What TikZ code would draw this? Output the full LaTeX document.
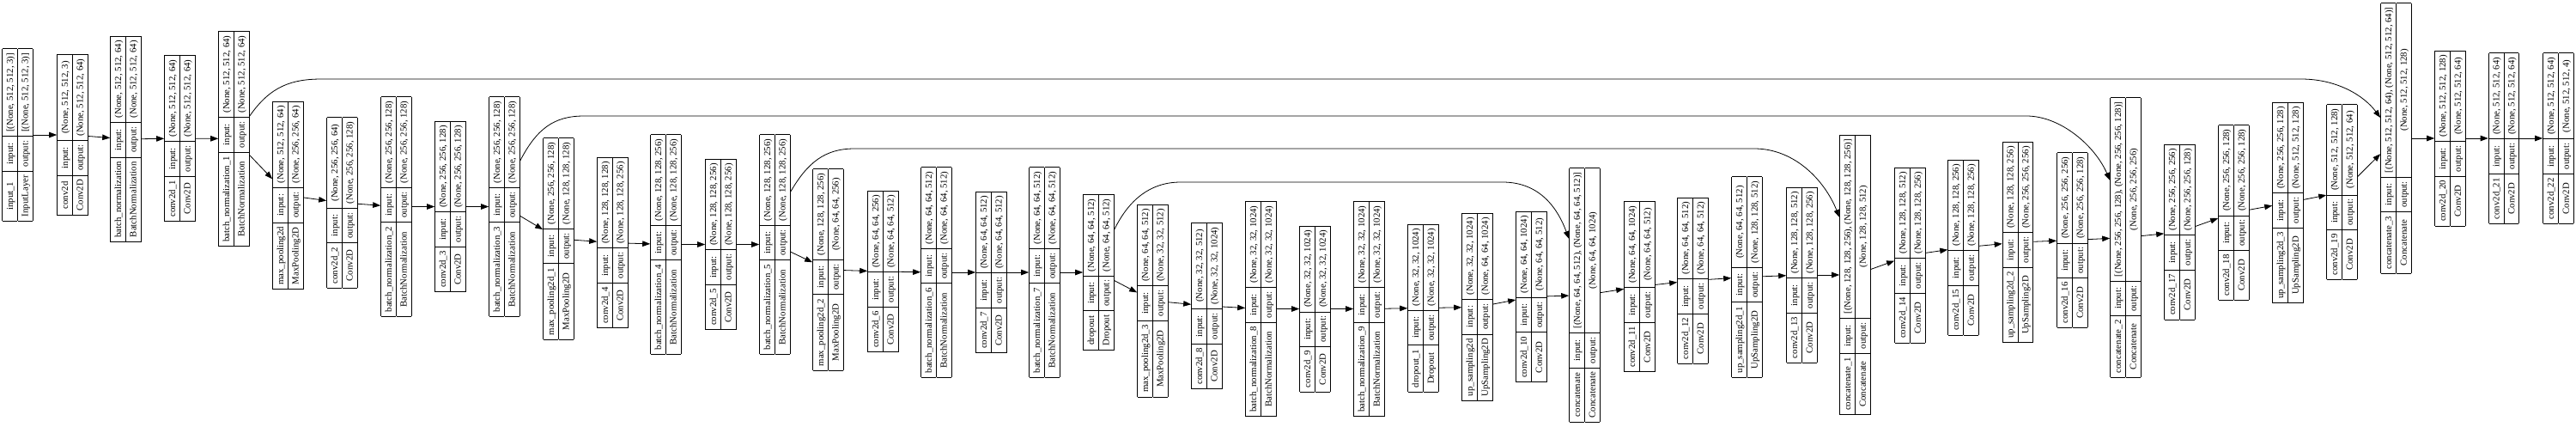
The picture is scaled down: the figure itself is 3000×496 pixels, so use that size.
\documentclass[tikz,border=0pt]{standalone}
\usepackage{fontspec}
\setmainfont{Liberation Serif}
\usepackage{tikz}
\usetikzlibrary{arrows.meta}
\setlength{\tabcolsep}{5pt}
\setlength{\arrayrulewidth}{0.8pt}
\renewcommand{\arraystretch}{1.3}

\begin{document}
\begin{tikzpicture}[x=1pt, y=-1pt, font=\fontsize{10.8}{13}\selectfont,
  kbox/.style={rotate=90, inner sep=0pt, fill=white},
  link/.style={-{Triangle[length=9pt,width=6.5pt]}, line width=0.8pt}]
\useasboundingbox (0,0) rectangle (3000,496);
% one keras layer: \kl{id}{x}{y}{name}{type}{input shape}{output shape}
\newcommand{\kl}[7]{\node[kbox] (#1) at (#2,#3) {\begin{tabular}{|c|c|c|}\hline #4 & input: & #6\\ \hline #5 & output: & #7\\ \hline\end{tabular}};}
% encoder
\kl{in1}{20.5}{157}{input\_1}{InputLayer}{[(None, 512, 512, 3)]}{[(None, 512, 512, 3)]}
\kl{cv0}{84.5}{157}{conv2d}{Conv2D}{(None, 512, 512, 3)}{(None, 512, 512, 64)}
\kl{bn0}{146.5}{162}{batch\_normalization}{BatchNormalization}{(None, 512, 512, 64)}{(None, 512, 512, 64)}
\kl{cv1}{209.5}{161}{conv2d\_1}{Conv2D}{(None, 512, 512, 64)}{(None, 512, 512, 64)}
\kl{bn1}{272.5}{161.5}{batch\_normalization\_1}{BatchNormalization}{(None, 512, 512, 64)}{(None, 512, 512, 64)}
\kl{mp0}{335.5}{227.5}{max\_pooling2d}{MaxPooling2D}{(None, 512, 512, 64)}{(None, 256, 256, 64)}
\kl{cv2}{398.5}{236}{conv2d\_2}{Conv2D}{(None, 256, 256, 64)}{(None, 256, 256, 128)}
\kl{bn2}{461.5}{240.5}{batch\_normalization\_2}{BatchNormalization}{(None, 256, 256, 128)}{(None, 256, 256, 128)}
\kl{cv3}{524.5}{240.5}{conv2d\_3}{Conv2D}{(None, 256, 256, 128)}{(None, 256, 256, 128)}
\kl{bn3}{587.5}{240.5}{batch\_normalization\_3}{BatchNormalization}{(None, 256, 256, 128)}{(None, 256, 256, 128)}
\kl{mp1}{650.5}{278}{max\_pooling2d\_1}{MaxPooling2D}{(None, 256, 256, 128)}{(None, 128, 128, 128)}
\kl{cv4}{713.5}{282.5}{conv2d\_4}{Conv2D}{(None, 128, 128, 128)}{(None, 128, 128, 256)}
\kl{bn4}{775.5}{284.5}{batch\_normalization\_4}{BatchNormalization}{(None, 128, 128, 256)}{(None, 128, 128, 256)}
\kl{cv5}{839.5}{284.5}{conv2d\_5}{Conv2D}{(None, 128, 128, 256)}{(None, 128, 128, 256)}
\kl{bn5}{902.5}{284.5}{batch\_normalization\_5}{BatchNormalization}{(None, 128, 128, 256)}{(None, 128, 128, 256)}
\kl{mp2}{964.5}{314}{max\_pooling2d\_2}{MaxPooling2D}{(None, 128, 128, 256)}{(None, 64, 64, 256)}
\kl{cv6}{1028.5}{316}{conv2d\_6}{Conv2D}{(None, 64, 64, 256)}{(None, 64, 64, 512)}
\kl{bn6}{1090.5}{317}{batch\_normalization\_6}{BatchNormalization}{(None, 64, 64, 512)}{(None, 64, 64, 512)}
\kl{cv7}{1154.5}{317}{conv2d\_7}{Conv2D}{(None, 64, 64, 512)}{(None, 64, 64, 512)}
\kl{bn7}{1216.5}{317}{batch\_normalization\_7}{BatchNormalization}{(None, 64, 64, 512)}{(None, 64, 64, 512)}
\kl{dr0}{1279.5}{317}{dropout}{Dropout}{(None, 64, 64, 512)}{(None, 64, 64, 512)}
\kl{mp3}{1342.5}{350}{max\_pooling2d\_3}{MaxPooling2D}{(None, 64, 64, 512)}{(None, 32, 32, 512)}
% bottleneck
\kl{cv8}{1405.5}{356}{conv2d\_8}{Conv2D}{(None, 32, 32, 512)}{(None, 32, 32, 1024)}
\kl{bn8}{1468.5}{359.5}{batch\_normalization\_8}{BatchNormalization}{(None, 32, 32, 1024)}{(None, 32, 32, 1024)}
\kl{cv9}{1531.5}{359.5}{conv2d\_9}{Conv2D}{(None, 32, 32, 1024)}{(None, 32, 32, 1024)}
\kl{bn9}{1594.5}{359.5}{batch\_normalization\_9}{BatchNormalization}{(None, 32, 32, 1024)}{(None, 32, 32, 1024)}
\kl{dr1}{1657.5}{358.5}{dropout\_1}{Dropout}{(None, 32, 32, 1024)}{(None, 32, 32, 1024)}
% decoder
\kl{up0}{1720.5}{357.5}{up\_sampling2d}{UpSampling2D}{(None, 32, 32, 1024)}{(None, 64, 64, 1024)}
\kl{cv10}{1783.5}{345.5}{conv2d\_10}{Conv2D}{(None, 64, 64, 1024)}{(None, 64, 64, 512)}
\kl{cc0}{1845.5}{343.5}{concatenate}{Concatenate}{[(None, 64, 64, 512), (None, 64, 64, 512)]}{(None, 64, 64, 1024)}
\kl{cv11}{1909.5}{333.5}{conv2d\_11}{Conv2D}{(None, 64, 64, 1024)}{(None, 64, 64, 512)}
\kl{cv12}{1971.5}{326.5}{conv2d\_12}{Conv2D}{(None, 64, 64, 512)}{(None, 64, 64, 512)}
\kl{up1}{2034.5}{322.5}{up\_sampling2d\_1}{UpSampling2D}{(None, 64, 64, 512)}{(None, 128, 128, 512)}
\kl{cv13}{2098.5}{320}{conv2d\_13}{Conv2D}{(None, 128, 128, 512)}{(None, 128, 128, 256)}
\kl{cc1}{2160.5}{320}{concatenate\_1}{Concatenate}{[(None, 128, 128, 256), (None, 128, 128, 256)]}{(None, 128, 128, 512)}
\kl{cv14}{2224.5}{297}{conv2d\_14}{Conv2D}{(None, 128, 128, 512)}{(None, 128, 128, 256)}
\kl{cv15}{2286.5}{288}{conv2d\_15}{Conv2D}{(None, 128, 128, 256)}{(None, 128, 128, 256)}
\kl{up2}{2350}{282}{up\_sampling2d\_2}{UpSampling2D}{(None, 128, 128, 256)}{(None, 256, 256, 256)}
\kl{cv16}{2413.5}{279.5}{conv2d\_16}{Conv2D}{(None, 256, 256, 256)}{(None, 256, 256, 128)}
\kl{cc2}{2475.5}{276.5}{concatenate\_2}{Concatenate}{[(None, 256, 256, 128), (None, 256, 256, 128)]}{(None, 256, 256, 256)}
\kl{cv17}{2538.5}{270}{conv2d\_17}{Conv2D}{(None, 256, 256, 256)}{(None, 256, 256, 128)}
\kl{cv18}{2601.5}{247.5}{conv2d\_18}{Conv2D}{(None, 256, 256, 128)}{(None, 256, 256, 128)}
\kl{up3}{2664.5}{236}{up\_sampling2d\_3}{UpSampling2D}{(None, 256, 256, 128)}{(None, 512, 512, 128)}
\kl{cv19}{2727.5}{223.5}{conv2d\_19}{Conv2D}{(None, 512, 512, 128)}{(None, 512, 512, 64)}
\kl{cc3}{2790.5}{161}{concatenate\_3}{Concatenate}{[(None, 512, 512, 64), (None, 512, 512, 64)]}{(None, 512, 512, 128)}
\kl{cv20}{2853.5}{161}{conv2d\_20}{Conv2D}{(None, 512, 512, 128)}{(None, 512, 512, 64)}
\kl{cv21}{2916}{161}{conv2d\_21}{Conv2D}{(None, 512, 512, 64)}{(None, 512, 512, 64)}
\kl{cv22}{2979.5}{161}{conv2d\_22}{Conv2D}{(None, 512, 512, 64)}{(None, 512, 512, 4)}
% main chain
\foreach \b [remember=\b as \a (initially in1)] in {cv0,bn0,cv1,bn1,mp0,cv2,bn2,cv3,bn3,mp1,cv4,bn4,cv5,bn5,mp2,cv6,bn6,cv7,bn7,dr0,mp3,cv8,bn8,cv9,bn9,dr1,up0,cv10,cc0,cv11,cv12,up1,cv13,cc1,cv14,cv15,up2,cv16,cc2,cv17,cv18,up3,cv19,cc3,cv20,cv21,cv22}
  \draw[link] (\a) -- (\b);
% skip connections
\draw[link] (bn1.south |- 0,135) .. controls (315,100) and (340,92) .. (375,92) -- (2680,92) .. controls (2720,92) and (2752,110) .. (cc3.north |- 0,137);
\draw[link] (bn3.south |- 0,187) .. controls (625,150) and (645,135) .. (680,135) -- (2360,135) .. controls (2400,135) and (2440,170) .. (cc2.north |- 0,210);
\draw[link] (bn5.south |- 0,223) .. controls (940,190) and (960,173) .. (995,173) -- (2043,173) .. controls (2090,173) and (2125,210) .. (cc1.north |- 0,253);
\draw[link] (dr0.south |- 0,267) .. controls (1315,232) and (1340,212) .. (1375,212) -- (1750,212) .. controls (1795,212) and (1815,245) .. (cc0.north |- 0,278);
\end{tikzpicture}
\end{document}
